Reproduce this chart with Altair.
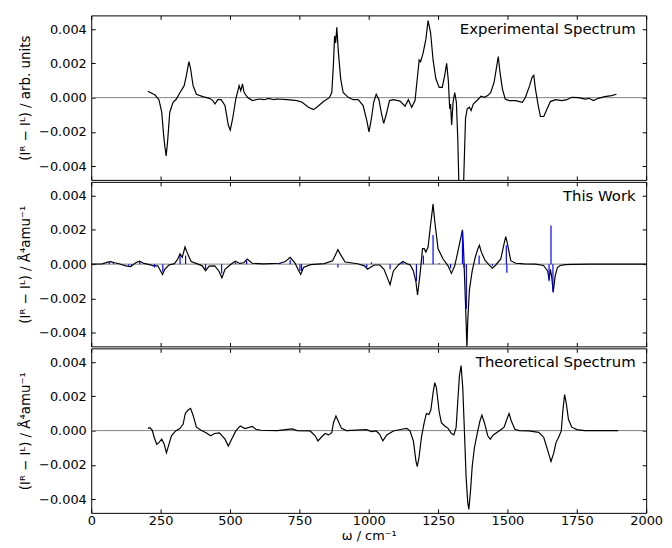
import altair as alt
import pandas as pd

# ---------------- data ----------------
exp_x = [204, 230, 244, 254, 261, 265, 270, 275, 283, 295,
         307, 319, 335, 343, 352, 358, 367, 379, 402, 426,
         438, 446, 456, 468, 482, 494, 501, 510, 521, 533,
         539, 545, 551, 563, 581, 605, 623, 640, 658, 670,
         706, 742, 760, 783, 801, 813, 837, 858, 867, 873,
         877, 881, 885, 891, 899, 908, 926, 944, 962, 980,
         994, 1001, 1010, 1018, 1027, 1037, 1045, 1054, 1063, 1075,
         1089, 1113, 1131, 1143, 1155, 1167, 1175, 1182, 1187, 1196,
         1206, 1214, 1223, 1232, 1242, 1254, 1265, 1274, 1281, 1287,
         1292, 1295, 1299, 1304, 1310, 1316, 1321, 1325, 1333, 1342,
         1349, 1355, 1363, 1369, 1377, 1393, 1405, 1417, 1429, 1440,
         1452, 1461, 1467, 1473, 1482, 1492, 1506, 1530, 1544, 1554,
         1565, 1580, 1589, 1595, 1601, 1611, 1619, 1631, 1643, 1655,
         1673, 1696, 1714, 1732, 1756, 1780, 1794, 1810, 1827, 1851,
         1875, 1893]
exp_y = [0.00037, 0.00015, -0.00012, -0.00085, -0.0022, -0.0028, -0.0034, -0.0026, -0.00085, -0.00027,
         -0.00008, 0.00027, 0.0007, 0.0013, 0.0021, 0.0017, 0.0007, 0.0002, 0.00006, -0.00004,
         -0.00017, -0.00037, -0.00012, -0.00012, -0.00046, -0.0016, -0.0019, -0.0012, -0.00008, 0.0007,
         0.0004, 0.0008, 0.0003, 0.00002, -0.00017, -0.00008, -0.00012, -0.00004, -0.00012, -0.00008,
         -0.00012, -0.00017, -0.00027, -0.00056, -0.0007, -0.00056, -0.00023, 0.0, 0.0003, 0.002,
         0.0036, 0.0032, 0.0041, 0.0026, 0.0011, 0.0003, 0.00002, -0.00012, -0.00012, -0.00046,
         -0.0014, -0.002, -0.0012, -0.00027, 0.0002, -0.00012, -0.00085, -0.0015, -0.001, -0.00017,
         -0.00012, -0.0002, -0.0005, -0.00012, -0.00056, -0.00017, 0.0011, 0.0022, 0.0021, 0.0026,
         0.0034, 0.0045, 0.0038, 0.0022, 0.0011, 0.0006, 0.0006, 0.0013, 0.002, 0.001,
         -0.00065, -0.00037, -0.0016, -0.00027, 0.0003, -0.00027, -0.0024, -0.0050, -0.0062, -0.0050,
         -0.0012, -0.00065, -0.00056, -0.00075, -0.00037, -0.00012, 0.00008, 0.00002, 0.00012, 0.0003,
         0.0009, 0.0018, 0.0024, 0.0015, 0.0005, -0.00008, -0.00017, -0.00017, -0.00023, -0.00027,
         0.00002, 0.0007, 0.0012, 0.0013, 0.0005, -0.00046, -0.0011, -0.0011, -0.00065, -0.00023,
         -0.00012, -0.00017, -0.00012, 0.00002, 0.0, -0.00008, -0.00004, -0.00017, -0.00004, 0.00006,
         0.00012, 0.0002]

tw_x = [0, 40, 60, 70, 85, 100, 125, 142, 160, 174,
        190, 210, 225, 240, 250, 257, 265, 280, 300, 312,
        320, 328, 338, 345, 360, 380, 400, 412, 425, 445,
        460, 471, 482, 500, 519, 535, 550, 562, 580, 620,
        680, 700, 717, 735, 745, 755, 765, 790, 840, 870,
        882, 889, 897, 915, 960, 985, 996, 1005, 1020, 1040,
        1055, 1065, 1077, 1089, 1107, 1123, 1137, 1150, 1161, 1170,
        1176, 1185, 1194, 1200, 1206, 1214, 1223, 1232, 1238, 1250,
        1268, 1286, 1298, 1310, 1321, 1330, 1338, 1342, 1346, 1351,
        1354, 1357, 1363, 1373, 1384, 1393, 1399, 1406, 1420, 1434,
        1446, 1458, 1476, 1488, 1494, 1500, 1512, 1530, 1560, 1601,
        1630, 1645, 1650, 1655, 1660, 1665, 1672, 1680, 1690, 1710,
        1732, 1800, 1900, 2000]
tw_y = [0.0, 0.00002, 0.00012, 0.00015, 0.00008, 0.00002, -0.0001, -0.00015, 0.00008, 0.00017,
        0.00004, -0.00003, -0.0001, -0.0001, -0.0004, -0.0006, -0.0003, -0.00005, 0.00003, 0.0003,
        0.0006, 0.0004, 0.001, 0.0007, 0.00015, 0.00003, -0.0001, -0.00038, -0.00012, -0.0001,
        -0.0004, -0.0008, -0.0003, -0.00005, 0.00017, 0.00004, 0.00008, 0.0003, 0.00005, 0.00001,
        0.00005, 0.00015, 0.0004, 0.00005, -0.0003, -0.0006, -0.0002, -0.00003, 0.00003, 0.0002,
        0.0006, 0.00085, 0.0006, 0.00012, 0.00002, -0.0001, -0.0003, -0.0002, -0.00005, -0.00005,
        -0.0003, -0.0007, -0.0012, -0.0004, -0.00005, 0.00015, 0.00003, -0.00005, -0.0004, -0.001,
        -0.0018, -0.0006, 0.0009, 0.0009, 0.0007, 0.001, 0.0023, 0.0035, 0.0025, 0.0009,
        0.0003, -0.0001, -0.00054, -0.0001, 0.0007, 0.0014, 0.002, 0.0008, -0.001, -0.0033,
        -0.0049, -0.0033, -0.0015, -0.0004, 0.0004, 0.00087, 0.0011, 0.0007, 0.0002, -0.00004,
        -0.00023, -0.00005, 0.0003, 0.0012, 0.0016, 0.0012, 0.0002, 0.00005, 0.00002, 0.0,
        -0.00008, -0.0004, -0.0009, -0.0003, -0.0008, -0.00165, -0.0007, -0.0002, -0.00008, -0.00003,
        -0.00001, 0.0, 0.0, 0.0]

st_x = [65, 80, 135, 145, 175, 228, 258, 320, 340, 412,
        470, 520, 560, 680, 717, 752, 758, 889, 993, 1010,
        1077, 1123, 1172, 1197, 1232, 1254, 1295, 1338, 1343, 1352,
        1398, 1446, 1496, 1498, 1650, 1657, 1664]
st_y = [0.00012, 0.0001, -0.0001, -0.00012, 0.00012, -0.0002, -0.00045, 0.0005, 0.0005, -0.0003,
        -0.00055, 0.0001, 0.0002, 0.0001, 0.00025, -0.0004, -0.0004, -0.0002, -0.0002, 0.0001,
        -0.0003, 0.0001, -0.001, 0.0005, 0.0017, 0.00005, -0.00025, 0.0019, -0.0002, -0.0026,
        0.0005, -0.0001, 0.0011, -0.0005, -0.001, 0.00225, -0.0016]

th_x = [204, 212, 220, 227, 236, 244, 254, 263, 271, 280,
        289, 304, 319, 331, 339, 349, 358, 367, 379, 396,
        414, 430, 444, 462, 482, 494, 506, 521, 537, 554,
        581, 593, 611, 670, 724, 742, 789, 807, 817, 831,
        843, 855, 867, 873, 882, 890, 902, 920, 992, 1010,
        1027, 1039, 1051, 1065, 1089, 1119, 1137, 1149, 1161, 1170,
        1175, 1181, 1190, 1200, 1208, 1217, 1224, 1232, 1238, 1244,
        1254, 1262, 1274, 1286, 1298, 1307, 1315, 1321, 1327, 1333,
        1339, 1345, 1351, 1357, 1361, 1367, 1373, 1381, 1393, 1401,
        1408, 1417, 1429, 1438, 1449, 1470, 1488, 1500, 1506, 1514,
        1527, 1542, 1577, 1613, 1631, 1646, 1657, 1667, 1675, 1685,
        1694, 1700, 1706, 1712, 1720, 1732, 1750, 1780, 1899]
th_y = [0.00013, 0.00017, 0.00002, -0.0004, -0.0008, -0.0007, -0.0005, -0.0008, -0.0013, -0.0008,
        -0.0003, -0.00002, 0.00012, 0.00037, 0.001, 0.0012, 0.0013, 0.0009, 0.0002, 0.00002,
        -0.00012, -0.0003, -0.00017, -0.00013, -0.0005, -0.0009, -0.0005, -0.00002, 0.00027, 0.00012,
        0.00025, 0.00008, 0.00002, 0.0, 0.0001, 0.0, -0.00002, -0.0003, -0.0006, -0.00036,
        -0.00017, -0.00025, -0.00012, 0.00046, 0.00085, 0.00056, 0.00013, 0.0, 0.00006, -0.00006,
        -0.00002, -0.0002, -0.0006, -0.00025, -0.00002, 0.00008, 0.00013, -0.00002, -0.0006, -0.00175,
        -0.0021, -0.0016, -0.0004, 0.00046, 0.001, 0.00094, 0.0012, 0.0022, 0.0028, 0.0025,
        0.0011, 0.00046, 0.00027, 0.00013, -0.00017, -0.00025, 0.00017, 0.0017, 0.0032, 0.0038,
        0.0025, -0.00002, -0.0027, -0.0042, -0.0046, -0.0035, -0.0021, -0.001, -0.00002, 0.00056,
        0.0009, 0.00046, -0.0003, -0.0005, -0.00025, -0.00002, 0.0002, 0.00075, 0.001, 0.00056,
        0.00008, 0.0, -0.00002, -0.0001, -0.0004, -0.0012, -0.0018, -0.0013, -0.0007, -0.00037,
        -0.00002, 0.0012, 0.0021, 0.0016, 0.00065, 0.0002, 0.00006, 0.0, 0.0]

panel_labels = ["Experimental Spectrum", "This Work", "Theoretical Spectrum"]
y_titles = ["(Iᴿ − Iᴸ) / arb. units", "(Iᴿ − Iᴸ) / Å⁴amu⁻¹", "(Iᴿ − Iᴸ) / Å⁴amu⁻¹"]
x_title = "ω / cm⁻¹"
y_ticks = [-0.004, -0.002, 0.0, 0.002, 0.004]
x_ticks = [0, 250, 500, 750, 1000, 1250, 1500, 1750, 2000]
x_domain = [0, 2000]
y_domain = [-0.0048, 0.0048]
label_pos = (1962, 0.004)

# ---------------- chart ----------------
FONT = "DejaVu Sans"
W, H = 560, 166
xs = alt.Scale(domain=x_domain, nice=False, zero=False)
ys = alt.Scale(domain=y_domain, nice=False, zero=False)


def x_axis(orient, labels):
    kw = dict(orient=orient, values=x_ticks, tickSize=4, offset=-4, domain=False,
              grid=False, labels=labels, tickColor="black", labelFlush=False)
    if labels:
        kw.update(title=x_title, labelPadding=2, titlePadding=2, format="d")
    else:
        kw.update(title="", minExtent=0, maxExtent=0, labelPadding=0, titlePadding=0)
    return alt.Axis(**kw)


def y_axis_left(title):
    return alt.Axis(orient="left", values=y_ticks, tickSize=4, offset=-4, domain=False,
                    grid=False, format=".3f", labelPadding=5, title=title,
                    titlePadding=6, tickColor="black", titleFontSize=13.5,
                    labelFlush=False)


y_axis_right = alt.Axis(orient="right", values=y_ticks, tickSize=4, offset=-4, domain=False,
                        grid=False, labels=False, title="", tickColor="black",
                        minExtent=0, maxExtent=0, labelPadding=0, titlePadding=0)


def panel(cx, cy, label, ytitle, bottom, sticks=None):
    curve = pd.DataFrame({"x": cx, "y": cy})
    zero = pd.DataFrame({"z": [0.0]})
    lab = pd.DataFrame({"x": [label_pos[0]], "y": [label_pos[1]], "t": [label]})

    zero_rule = alt.Chart(zero).mark_rule(color="#808080", strokeWidth=1).encode(
        y=alt.Y("z:Q", scale=ys, axis=y_axis_right)
    )
    line = alt.Chart(curve).mark_line(color="black", strokeWidth=1.2, clip=True).encode(
        x=alt.X("x:Q", scale=xs, axis=x_axis("bottom", bottom)),
        y=alt.Y("y:Q", scale=ys, axis=y_axis_left(ytitle)),
        order="x:Q",
    )
    text = alt.Chart(lab).mark_text(align="right", baseline="middle", fontSize=15,
                                    font=FONT, color="black").encode(
        x=alt.X("x:Q", scale=xs, axis=x_axis("top", False)),
        y=alt.Y("y:Q", scale=ys, axis=None),
        text="t:N",
    )
    layers = [zero_rule, line]
    if sticks is not None:
        sdf = pd.DataFrame({"x": sticks[0], "y": sticks[1], "y0": [0.0] * len(sticks[0])})
        st = alt.Chart(sdf).mark_rule(color="#0000ff", strokeWidth=1.2).encode(
            x=alt.X("x:Q", scale=xs, axis=None),
            y=alt.Y("y:Q", scale=ys, axis=None),
            y2="y0:Q",
        )
        layers.append(st)
    layers.append(text)
    return alt.layer(*layers).resolve_axis(x="independent", y="independent").properties(
        width=W, height=H
    )


p1 = panel(exp_x, exp_y, panel_labels[0], y_titles[0], False)
p2 = panel(tw_x, tw_y, panel_labels[1], y_titles[1], False, sticks=(st_x, st_y))
p3 = panel(th_x, th_y, panel_labels[2], y_titles[2], True)

chart = alt.vconcat(p1, p2, p3, spacing=0).properties(
    padding={"left": 10, "top": 4, "right": 0, "bottom": 2}
).configure_view(stroke="black", strokeWidth=1).configure_axis(
    labelFont=FONT, titleFont=FONT, labelFontSize=13, titleFontSize=13,
    labelColor="black", titleColor="black", titleFontWeight="normal",
).configure_concat(spacing=0)

chart.save("out.html", embed_options={"renderer": "svg", "actions": False})
